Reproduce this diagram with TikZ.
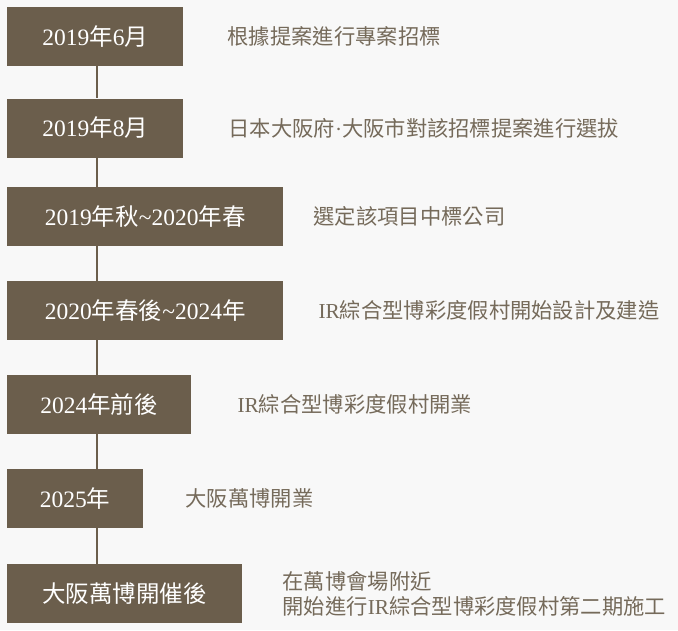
\documentclass[tikz,border=0pt]{standalone}
\usepackage{fontspec}
\setmainfont{Liberation Serif}
\newfontfamily\cjkfont{Noto Sans CJK TC}
\newcommand\zh[1]{{\cjkfont #1}}
\usetikzlibrary{positioning}
\definecolor{brun}{HTML}{6B5E4C}
\definecolor{brunclair}{HTML}{756A5A}
\definecolor{fondgris}{HTML}{F8F8F8}

\begin{document}
\begin{tikzpicture}[x=1pt, y=-1pt]
  %tikz%
  % Calendrier, IR Osaka
  %tikz%
    \tikzset{etape/.style={fill=brun, text=white, anchor=west, minimum height=59pt,
                           inner sep=0pt, font=\fontsize{23.5pt}{28pt}\selectfont},
             legende/.style={text=brunclair, inner sep=0pt, align=left,
                             font=\fontsize{21.3pt}{25pt}\selectfont},
             ligne/.style={brun, line width=2.5pt}}

    \fill[fondgris] (0,0) rectangle (678,630);
    \useasboundingbox (0,0) rectangle (678,630);

    \node[etape, minimum width=176pt] (d1) at (7,36.5) {2019\zh{年}6\zh{月}};
    \node[etape, minimum width=176pt] (d2) at (7,128) {2019\zh{年}8\zh{月}};
    \node[etape, minimum width=276pt] (d3) at (7,216.5) {2019\zh{年秋}\textasciitilde 2020\zh{年春}};
    \node[etape, minimum width=276pt] (d4) at (7,310.5) {2020\zh{年春後}\textasciitilde 2024\zh{年}};
    \node[etape, minimum width=184pt] (d5) at (7,404.5) {2024\zh{年前後}};
    \node[etape, minimum width=136pt] (d6) at (7,498.5) {2025\zh{年}};
    \node[etape, minimum width=235pt] (d7) at (7,593.5) {\zh{大阪萬博開催後}};

    \foreach \a/\b in {d1/d2, d2/d3, d3/d4, d4/d5, d5/d6, d6/d7}{
      \draw[ligne] ([xshift=90pt]\a.south west) -- ([xshift=90pt]\b.north west);
    }

    \node[legende, right=44pt of d1] (n1) {\zh{根據提案進行專案招標}};
    \node[legende, right=45pt of d2] (n2) {\zh{日本大阪府}·\zh{大阪市對該招標提案進行選拔}};
    \node[legende, right=30pt of d3] (n3) {\zh{選定該項目中標公司}};
    \node[legende, right=35pt of d4] (n4) {IR\zh{綜合型博彩度假村開始設計及建造}};
    \node[legende, right=46pt of d5] (n5) {IR\zh{綜合型博彩度假村開業}};
    \node[legende, right=42pt of d6] (n6) {\zh{大阪萬博開業}};
    \node[legende, right=40pt of d7] (n7) {\zh{在萬博會場附近}\\\zh{開始進行}IR\zh{綜合型博彩度假村第二期施工}};

  \end{tikzpicture}
\end{document}
